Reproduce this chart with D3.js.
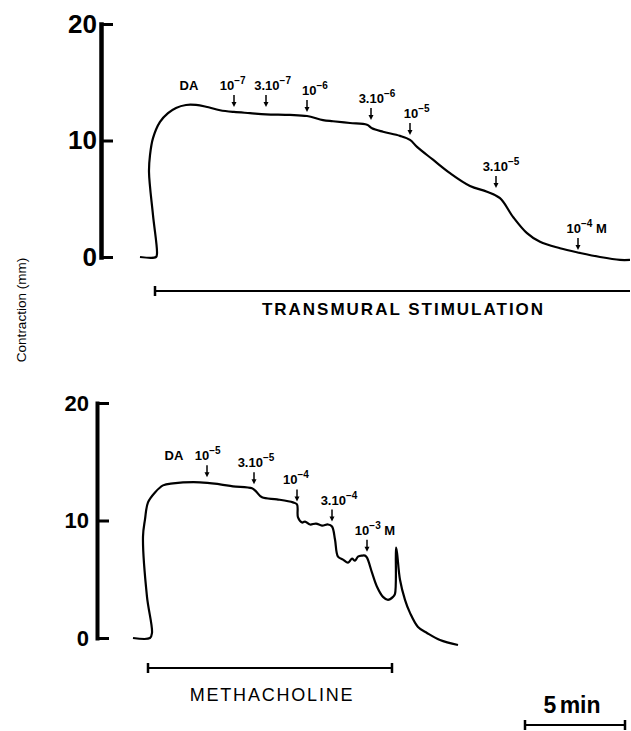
<!DOCTYPE html>
<html>
<head>
<meta charset="utf-8">
<script src="https://cdn.jsdelivr.net/npm/d3@7"></script>
<style>
  body { margin: 0; background: #fff; }
</style>
</head>
<body>
<svg id="chart" width="631" height="731"></svg>
<script>
(function () {
    'use strict';

    // top trace: transmural stimulation (time in min, contraction in mm)
    const topTime = [0, 0.8, 0.85, 0.65, 0.45, 0.5, 0.65, 1.0, 1.4, 1.8, 2.3, 2.8, 3.3, 4.0, 4.7, 5.5,
        6.3, 7.5, 8.35, 9.15, 9.65, 10.5, 11.35, 11.6, 12.15, 13.0, 13.5, 13.85, 14.65, 15.5, 16.5,
        17.35, 18.0, 18.65, 19.35, 20.0, 21.0, 22.0, 23.0, 24.0, 24.5];
    const topForce = [0, 0, 0.3, 3.6, 7.3, 8.75, 10.2, 11.6, 12.35, 12.8, 13.05, 13.05, 12.9, 12.6, 12.45, 12.35,
        12.25, 12.2, 12.1, 11.75, 11.65, 11.5, 11.35, 11.05, 10.75, 10.4, 10.05, 9.45, 8.35, 7.2, 6.1,
        5.6, 5.05, 3.45, 2.05, 1.3, 0.75, 0.35, 0.0, -0.25, -0.25];

    // bottom trace: methacholine
    const botTime = [0, 0.85, 0.95, 0.7, 0.5, 0.6, 0.75, 1.1, 1.5, 2.0, 3.35, 4.35, 5.0, 5.95, 6.15, 6.45,
        7.2, 8.0, 8.2, 8.25, 8.45, 8.6, 8.85, 9.15, 9.45, 9.75, 9.95, 10.1, 10.25, 10.5, 10.75, 10.95,
        11.1, 11.25, 11.45, 11.6, 11.7, 11.95, 12.2, 12.5, 12.75, 13.0, 13.1, 13.15, 13.2, 13.35, 13.6,
        13.85, 14.25, 14.7, 15.35, 16.25];
    const botForce = [0, 0, 0.43, 3.5, 8.63, 10.09, 11.54, 12.39, 12.99, 13.16, 13.25, 13.08, 12.91, 12.74, 12.48, 11.97,
        11.8, 11.54, 11.37, 10.26, 9.83, 9.91, 9.66, 9.74, 9.57, 9.66, 9.49, 8.38, 6.92, 6.67, 6.41, 6.75,
        6.58, 6.92, 7.01, 7.01, 6.84, 5.56, 4.36, 3.5, 3.25, 3.5, 3.76, 7.69, 7.26, 4.96, 3.25,
        2.14, 0.94, 0.43, -0.17, -0.6];

    const yTicks = [0, 10, 20];

    // dose labels: text, label centre (min), arrow time (min), arrow tip level (mm)
    const topDoseText = ["DA", "10^-7", "3.10^-7", "10^-6", "3.10^-6", "10^-5", "3.10^-5", "10^-4 M"];
    const topDoseLabelTime = [2.45, 4.63, 6.63, 8.75, 11.85, 13.83, 18.05, 22.33];
    const topDoseTime = [2.45, 4.7, 6.3, 8.35, 11.55, 13.5, 17.8, 21.9];
    const topDoseLevel = [12.88, 12.88, 12.88, 12.45, 11.76, 10.47, 5.92, 0.6];

    const botDoseText = ["DA", "10^-5", "3.10^-5", "10^-4", "3.10^-4", "10^-3 M"];
    const botDoseLabelTime = [2.05, 3.73, 6.15, 8.15, 10.3, 12.1];
    const botDoseTime = [2.05, 3.7, 6.05, 8.2, 9.95, 11.7];
    const botDoseLevel = [13.68, 13.68, 13.08, 11.62, 9.91, 7.35];

    // stimulus periods (min) and 5 min calibration bar
    const topStim = [0.75, 24.5];
    const botStim = [0.75, 12.95];
    const scaleBar = [19.6, 24.6];

    const svg = d3.select('#chart');
    const sans = "'Liberation Sans', Arial, sans-serif";
    const narrow = "'Liberation Sans Narrow', 'Liberation Sans', Arial, sans-serif";

    const panels = [
        {
            time: topTime, force: topForce,
            x: d3.scaleLinear().domain([0, 24.5]).range([140, 630]),
            y: d3.scaleLinear().domain([0, 20]).range([257, 24]),
            axisX: 101, axisW: 4.5, tickFont: 26, tickPad: 4,
            doseText: topDoseText, doseLabelTime: topDoseLabelTime, doseTime: topDoseTime, doseLevel: topDoseLevel,
            stim: topStim, stimDy: 34, stimTicks: [true, false],
            stimLabel: "TRANSMURAL STIMULATION", stimLabelDy: 58, stimBold: true, stimSpacing: 2, stimShift: 11
        },
        {
            time: botTime, force: botForce,
            x: d3.scaleLinear().domain([0, 24.6]).range([133, 625]),
            y: d3.scaleLinear().domain([0, 20]).range([638, 403]),
            axisX: 97, axisW: 4, tickFont: 22, tickPad: 8,
            doseText: botDoseText, doseLabelTime: botDoseLabelTime, doseTime: botDoseTime, doseLevel: botDoseLevel,
            stim: botStim, stimDy: 30, stimTicks: [true, true],
            stimLabel: "METHACHOLINE", stimLabelDy: 63, stimBold: false, stimSpacing: 1.8, stimShift: 2
        }
    ];

    const parseDose = s => {
        const m = s.match(/^(3\.)?10\^(\S+)( M)?$/);
        if (!m) return { base: s };
        return { base: (m[1] || '') + '10', exp: m[2].replace('-', '\u2212'), post: m[3] ? '\u00a0M' : '' };
    };

    panels.forEach(p => {
        const g = svg.append('g');

        // y axis: heavy line, ticks pointing right, labels on the left
        const axis = d3.axisLeft(p.y)
                .tickValues(yTicks)
                .tickSizeInner(-12)
                .tickSizeOuter(0)
                .tickPadding(p.tickPad)
                .tickFormat(d3.format('d'));
        const ax = g.append('g')
                .attr('transform', `translate(${p.axisX},0)`)
                .call(axis);
        ax.select('.domain').attr('stroke-width', p.axisW).attr('stroke-linecap', 'square');
        ax.selectAll('.tick line').attr('stroke-width', 3);
        ax.selectAll('.tick text')
                .attr('font-family', narrow)
                .attr('font-weight', 'bold')
                .attr('font-size', p.tickFont)
                .attr('fill', '#000');

        // trace
        const line = d3.line()
                .x((d, i) => p.x(p.time[i]))
                .y(d => p.y(d))
                .curve(d3.curveCatmullRom.alpha(0.5));
        g.append('path')
                .datum(p.force)
                .attr('fill', 'none')
                .attr('stroke', '#000')
                .attr('stroke-width', 2.2)
                .attr('stroke-linejoin', 'round')
                .attr('d', line);

        // dose labels + arrows
        p.doseText.forEach((s, i) => {
            const d = parseDose(s);
            const tipY = p.y(p.doseLevel[i]);
            const t = g.append('text')
                    .attr('x', p.x(p.doseLabelTime[i]))
                    .attr('y', tipY - 17)
                    .attr('text-anchor', 'middle')
                    .attr('font-family', narrow)
                    .attr('font-weight', 'bold')
                    .attr('font-size', 13);
            t.append('tspan').text(d.base);
            if (d.exp) {
                t.append('tspan').attr('dy', -6).attr('font-size', 10).text(d.exp);
                if (d.post) t.append('tspan').attr('dy', 6).text(d.post);
                const ax0 = p.x(p.doseTime[i]);
                g.append('line')
                        .attr('x1', ax0).attr('x2', ax0)
                        .attr('y1', tipY - 12).attr('y2', tipY - 3)
                        .attr('stroke', '#000').attr('stroke-width', 1.5);
                g.append('path')
                        .attr('d', `M${ax0 - 2.5},${tipY - 5}L${ax0 + 2.5},${tipY - 5}L${ax0},${tipY}Z`)
                        .attr('fill', '#000');
            }
        });

        // stimulus bar
        const by = p.y(0) + p.stimDy;
        g.append('line')
                .attr('x1', p.x(p.stim[0])).attr('x2', p.x(p.stim[1]))
                .attr('y1', by).attr('y2', by)
                .attr('stroke', '#000').attr('stroke-width', 2);
        p.stim.forEach((v, i) => {
            if (!p.stimTicks[i]) return;
            g.append('line')
                    .attr('x1', p.x(v)).attr('x2', p.x(v))
                    .attr('y1', by - 5).attr('y2', by + 5)
                    .attr('stroke', '#000').attr('stroke-width', 2.5);
        });
        g.append('text')
                .attr('x', (p.x(p.stim[0]) + p.x(p.stim[1])) / 2 + p.stimShift)
                .attr('y', p.y(0) + p.stimLabelDy)
                .attr('text-anchor', 'middle')
                .attr('font-family', sans)
                .attr('font-weight', p.stimBold ? 'bold' : 'normal')
                .attr('font-size', p.stimBold ? 17 : 18)
                .attr('letter-spacing', p.stimSpacing)
                .text(p.stimLabel);
    });

    // 5 min calibration bar (bottom panel time scale)
    const bp = panels[1];
    const sy = bp.y(0) + 87;
    svg.append('line')
            .attr('x1', bp.x(scaleBar[0])).attr('x2', bp.x(scaleBar[1]))
            .attr('y1', sy).attr('y2', sy)
            .attr('stroke', '#000').attr('stroke-width', 2);
    scaleBar.forEach(v => {
        svg.append('line')
                .attr('x1', bp.x(v)).attr('x2', bp.x(v))
                .attr('y1', sy - 5).attr('y2', sy + 5)
                .attr('stroke', '#000').attr('stroke-width', 2.5);
    });
    svg.append('text')
            .attr('x', (bp.x(scaleBar[0]) + bp.x(scaleBar[1])) / 2 - 3)
            .attr('y', sy - 12)
            .attr('text-anchor', 'middle')
            .attr('font-family', narrow)
            .attr('font-weight', 'bold')
            .attr('font-size', 23)
            .attr('word-spacing', -3)
            .text('5 min');

    // shared y label
    svg.append('text')
            .attr('transform', 'translate(21,310) rotate(-90)')
            .attr('text-anchor', 'middle')
            .attr('dominant-baseline', 'central')
            .attr('font-family', sans)
            .attr('font-size', 13.5)
            .text('Contraction (mm)');
}());
</script>
</body>
</html>
